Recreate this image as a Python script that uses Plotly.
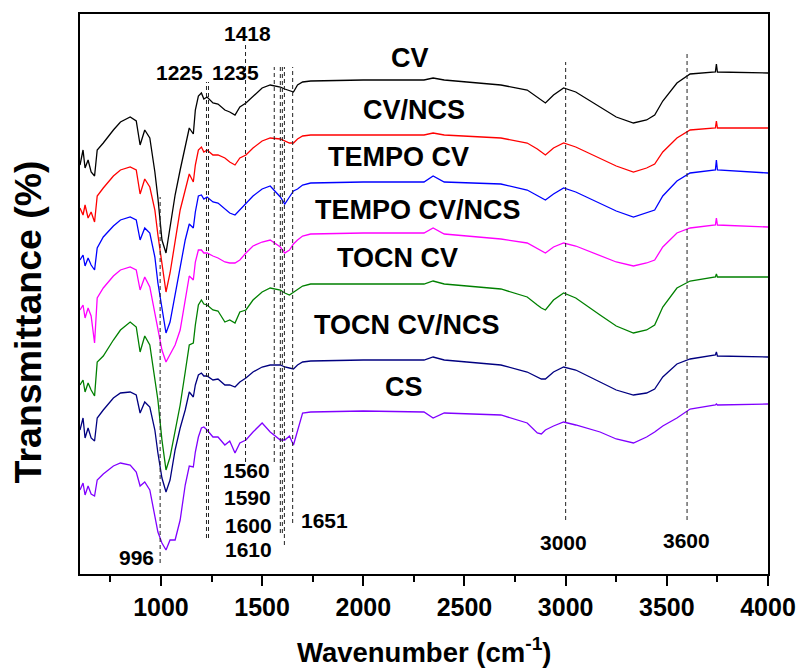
import plotly.graph_objects as go

# ---------------- data ----------------
wavenumber = [600, 615, 625, 640, 655, 672, 685, 715, 765, 800,
              848, 878, 897, 920, 945, 970, 985, 1005, 1025, 1045,
              1070, 1095, 1120, 1140, 1160, 1170, 1185, 1200, 1212, 1228,
              1257, 1282, 1316, 1340, 1366, 1390, 1420, 1455, 1500, 1540,
              1590, 1612, 1635, 1655, 1675, 1700, 1740, 2000, 2300, 2345,
              2400, 2680, 2810, 2860, 2880, 2900, 2940, 2990, 3050, 3170,
              3250, 3335, 3400, 3440, 3480, 3550, 3615, 3740, 3745, 3750, 4000]

t_cv = [409, 424, 406, 414, 402, 398, 424, 431, 444, 452,
        457, 453, 429, 444, 436, 402, 376, 334, 321, 346,
        379, 404, 426, 446, 440, 464, 478, 481, 475, 477,
        471, 470, 464, 462, 459, 467, 471, 478, 486, 489,
        487, 485, 483, 482, 489, 492, 493, 494, 494, 496,
        494, 489, 484, 477, 474, 471, 479, 486, 482, 467,
        457, 451, 454, 459, 473, 491, 500, 502, 510, 502, 501]

t_cv_ncs = [366, 359, 369, 356, 362, 352, 378, 386, 398, 404,
            407, 404, 380, 395, 387, 364, 339, 312, 282, 301,
            334, 364, 384, 400, 392, 409, 424, 427, 422, 424,
            419, 419, 416, 412, 409, 416, 419, 426, 433, 436,
            435, 433, 431, 431, 435, 438, 439, 439, 439, 441,
            439, 436, 431, 425, 422, 419, 426, 431, 427, 416,
            408, 402, 406, 410, 422, 436, 444, 446, 453, 446, 446]

t_tempo_cv = [314, 319, 308, 316, 309, 304, 326, 337, 348, 354,
              357, 354, 334, 346, 341, 317, 291, 266, 241, 252,
              279, 306, 334, 350, 346, 362, 378, 379, 375, 377,
              372, 371, 365, 361, 359, 364, 371, 378, 385, 388,
              377, 370, 377, 383, 385, 389, 391, 392, 392, 398,
              392, 390, 384, 378, 376, 374, 380, 386, 382, 371,
              363, 357, 361, 364, 378, 393, 401, 404, 414, 404, 401]

t_tempo_cv_ncs = [264, 269, 256, 266, 258, 231, 276, 286, 298, 304,
                  307, 304, 284, 297, 287, 261, 244, 224, 212, 219,
                  229, 244, 274, 298, 294, 312, 324, 324, 321, 321,
                  318, 316, 312, 311, 311, 314, 321, 328, 332, 334,
                  327, 321, 324, 330, 334, 338, 340, 341, 341, 346,
                  340, 335, 331, 325, 323, 321, 327, 331, 328, 318,
                  312, 308, 311, 314, 327, 341, 346, 349, 356, 349, 347]

t_tocn_cv = [189, 194, 182, 191, 184, 178, 212, 218, 234, 244,
             252, 247, 222, 238, 229, 194, 174, 134, 104, 117,
             144, 169, 202, 229, 231, 249, 269, 274, 270, 269,
             264, 263, 252, 254, 251, 262, 264, 274, 282, 286,
             284, 281, 279, 282, 285, 288, 290, 290, 290, 293,
             290, 285, 277, 269, 266, 264, 274, 281, 276, 259,
             248, 241, 244, 249, 267, 286, 293, 297, 300, 297, 297]

t_tocn_cv_ncs = [144, 156, 136, 146, 136, 133, 156, 164, 176, 181,
                 182, 179, 161, 172, 167, 144, 121, 96, 82, 94,
                 124, 146, 164, 182, 177, 189, 199, 201, 198, 198,
                 194, 195, 189, 189, 187, 192, 196, 202, 207, 209,
                 209, 207, 206, 205, 209, 212, 213, 214, 214, 217,
                 214, 209, 202, 197, 195, 195, 202, 207, 204, 192,
                 184, 179, 181, 185, 197, 210, 215, 219, 222, 218, 217]

t_cs = [84, 91, 79, 88, 80, 78, 94, 100, 108, 111,
        109, 102, 88, 92, 84, 59, 42, 31, 24, 34,
        34, 54, 89, 108, 107, 122, 137, 146, 147, 144,
        137, 137, 129, 133, 121, 131, 134, 142, 151, 142,
        134, 134, 138, 129, 144, 161, 162, 163, 162, 156,
        161, 159, 151, 141, 140, 144, 148, 152, 149, 142,
        135, 131, 137, 142, 148, 156, 165, 169, 170, 169, 170]

series_names = ["CV", "CV/NCS", "TEMPO CV", "TEMPO CV/NCS", "TOCN CV", "TOCN CV/NCS", "CS"]
series_values = [t_cv, t_cv_ncs, t_tempo_cv, t_tempo_cv_ncs, t_tocn_cv, t_tocn_cv_ncs, t_cs]

peak_wn = [996, 1225, 1235, 1418, 1560, 1590, 1600, 1610, 1651, 3000, 3600]
x_ticks = [1000, 1500, 2000, 2500, 3000, 3500, 4000]

# ---------------- styling / layout config ----------------
colors = ["#000000", "#ff0000", "#0000ff", "#ff00ff", "#008000", "#000080", "#8000ff"]
ref_top = [377, 492, 492, 532, 507, 507, 507, 507, 507, 512, 521]
ref_bottom = [11, 36, 36, 112, 112, 41, 41, 29, 51, 54, 54]

# curve label positions (x, y in data units)
curve_label_pos = [(2230, 516), (2250, 464), (2176, 417), (2270, 364),
                   (2171, 316), (2216, 249), (2201, 187)]
peak_label_pos = {
    "996": (881, 17), "1225": (1094, 502), "1235": (1366, 502), "1418": (1430, 541),
    "1560": (1425, 104), "1590": (1430, 77), "1600": (1435, 49), "1610": (1435, 25),
    "1651": (1810, 54), "3000": (2990, 32), "3600": (3599, 34),
}

FONT = "Arial, Liberation Sans, sans-serif"

fig = go.Figure()
for name, vals, col in zip(series_names, series_values, colors):
    fig.add_trace(go.Scatter(x=wavenumber, y=vals, mode="lines", name=name,
                             line=dict(color=col, width=1.3), showlegend=False))

shapes = []
for wn, top, bot in zip(peak_wn, ref_top, ref_bottom):
    shapes.append(dict(type="line", xref="x", yref="y", x0=wn, x1=wn, y0=bot, y1=top,
                       line=dict(color="#222222", width=1, dash="4px,3px")))

annotations = []
for name, (ax, ay) in zip(series_names, curve_label_pos):
    annotations.append(dict(x=ax, y=ay, xref="x", yref="y", text=f"<b>{name}</b>",
                            showarrow=False, xanchor="center", yanchor="middle",
                            font=dict(family=FONT, size=27, color="black")))
for lab, (ax, ay) in peak_label_pos.items():
    annotations.append(dict(x=ax, y=ay, xref="x", yref="y", text=f"<b>{lab}</b>",
                            showarrow=False, xanchor="center", yanchor="middle",
                            font=dict(family=FONT, size=21, color="black")))
annotations.append(dict(x=0.5, y=-0.136, xref="paper", yref="paper",
                        text="<b>Wavenumber (cm<sup>-1</sup>)</b>", showarrow=False,
                        xanchor="center", yanchor="middle",
                        font=dict(family=FONT, size=27.5, color="black")))
annotations.append(dict(x=-0.075, y=0.45, xref="paper", yref="paper",
                        text="<b>Transmittance (%)</b>", showarrow=False, textangle=-90,
                        xanchor="center", yanchor="middle",
                        font=dict(family=FONT, size=37.5, color="black")))

fig.update_layout(
    width=801, height=669,
    margin=dict(l=80, r=33, t=14, b=95, autoexpand=False),
    paper_bgcolor="white", plot_bgcolor="white",
    shapes=shapes, annotations=annotations,
    xaxis=dict(range=[600, 4000], tickvals=x_ticks, ticktext=[f"<b>{v}</b>" for v in x_ticks],
               ticks="outside", ticklen=10, tickwidth=2, tickcolor="black",
               showline=True, linewidth=2, linecolor="black", mirror=True,
               showgrid=False, zeroline=False, automargin=False,
               tickfont=dict(family=FONT, size=25, color="black"),
               minor=dict(dtick=250, tick0=750, ticks="outside", ticklen=6, tickwidth=2,
                          tickcolor="black", showgrid=False)),
    yaxis=dict(range=[0, 560], showticklabels=False, ticks="",
               showline=True, linewidth=2, linecolor="black", mirror=True,
               showgrid=False, zeroline=False, automargin=False),
)

fig.write_html("out.html")
